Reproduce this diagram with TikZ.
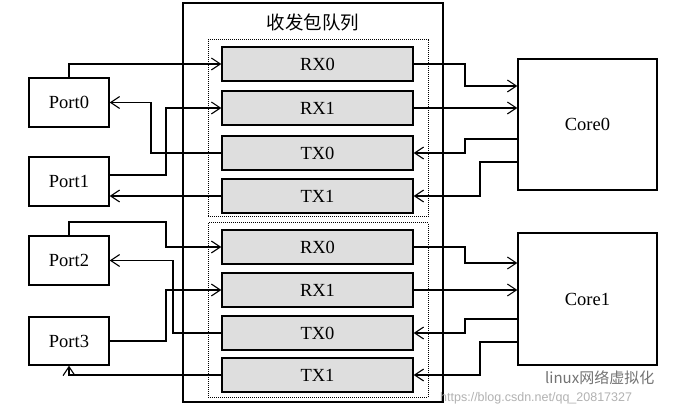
\documentclass[tikz,border=0pt]{standalone}
\usepackage{fontspec}
\setmainfont{Liberation Serif}
\newfontfamily\cjk{Noto Sans CJK SC}
\newfontfamily\wsans{Liberation Sans}
\usetikzlibrary{arrows.meta}
\begin{document}
\begin{tikzpicture}[x=1pt,y=-1pt,
  box/.style={draw,line width=1.3pt,inner sep=0pt,font=\fontsize{18.5}{21}\selectfont},
  queue/.style={box,fill=black!13,minimum width=191pt,minimum height=34pt},
  port/.style={box,fill=white,minimum width=80pt,minimum height=49pt},
  core/.style={box,fill=white,minimum width=139pt},
  grp/.style={draw,densely dotted,line width=1pt,inner sep=0pt,minimum width=220pt},
  arr/.style={draw,line width=1.1pt,-{Straight Barb[length=9pt,width=12pt,line width=1.1pt]}}]
\useasboundingbox (0,0) rectangle (687,411);
\fill[white] (0,0) rectangle (687,411);
% outer frame and title
\node[draw,line width=1.3pt,minimum width=260pt,minimum height=399pt,inner sep=0pt] (outer) at (313,202.5) {};
\node[font=\cjk\fontsize{18.5}{21}\selectfont,inner sep=0pt] (title) at (313,22) {收发包队列};
% groups
\node[grp,minimum height=177pt] (g1) at (318,128.5) {};
\node[grp,minimum height=174pt] (g2) at (318,310) {};
% queues
\node[queue] (a0) at (317.5,64) {RX0};
\node[queue] (a1) at (317.5,108) {RX1};
\node[queue] (a2) at (317.5,153) {TX0};
\node[queue] (a3) at (317.5,196) {TX1};
\node[queue] (b0) at (317.5,247) {RX0};
\node[queue] (b1) at (317.5,290) {RX1};
\node[queue] (b2) at (317.5,333) {TX0};
\node[queue] (b3) at (317.5,375) {TX1};
% ports
\node[port] (p0) at (69,102.5) {Port0};
\node[port] (p1) at (69,181.5) {Port1};
\node[port] (p2) at (69,260.5) {Port2};
\node[port,minimum height=48pt] (p3) at (69,341) {Port3};
% cores
\node[core,minimum height=131pt] (c0) at (587.5,124.5) {Core0};
\node[core,minimum height=132pt] (c1) at (587.5,299) {Core1};
% bend coordinates
\coordinate (k1) at (166,175);
\coordinate (k2) at (151,0);
\coordinate (k3) at (166,222);
\coordinate (k4) at (173,0);
\coordinate (k5) at (166,0);
\coordinate (r1) at (465,86);
\coordinate (r2) at (465,139);
\coordinate (r3) at (480,162);
\coordinate (r4) at (465,263);
\coordinate (r5) at (465,319);
\coordinate (r6) at (480,342);
% left connectors
\draw[arr] (p0.north) |- (a0.west);
\draw[arr] (p1.east |- k1) -- (k1) |- (a1.west);
\draw[arr] (a2.west) -| (k2 |- p0.east) -- (p0.east);
\draw[arr] (a3.west) -- (a3.west -| p1.east);
\draw[arr] (p2.north) |- (k3) |- (b0.west);
\draw[arr] (b2.west) -| (k4 |- p2.east) -- (p2.east);
\draw[arr] (p3.east) -| (k5 |- b1.west) -- (b1.west);
\draw[arr] (b3.west) -| (p3.south);
% right connectors
\draw[arr] (a0.east) -| (r1) -- (r1 -| c0.west);
\draw[arr] (a1.east) -- (a1.east -| c0.west);
\draw[arr] (r2 -| c0.west) -- (r2) |- (a2.east);
\draw[arr] (r3 -| c0.west) -- (r3) |- (a3.east);
\draw[arr] (b0.east) -| (r4) -- (r4 -| c1.west);
\draw[arr] (b1.east) -- (b1.east -| c1.west);
\draw[arr] (r5 -| c1.west) -- (r5) |- (b2.east);
\draw[arr] (r6 -| c1.west) -- (r6) |- (b3.east);
% watermark
\node[text=black!55,font=\cjk\fontsize{15}{17}\selectfont,inner sep=0pt,anchor=west] (wm2) at (545,378) {linux网络虚拟化};
\node[text=black!30,font=\wsans\fontsize{12.5}{14}\selectfont,inner sep=0pt,anchor=west] (wm1) at (440,398) {https://blog.csdn.net/qq\_20817327};
\end{tikzpicture}
\end{document}
